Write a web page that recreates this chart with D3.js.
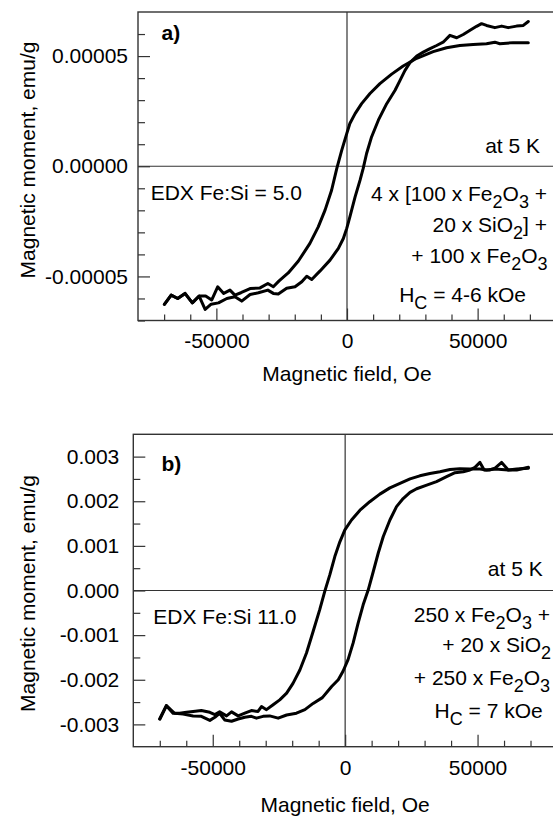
<!DOCTYPE html>
<html><head><meta charset="utf-8">
<script src="https://cdn.jsdelivr.net/npm/d3@7"></script>
<style>
html,body{margin:0;padding:0;background:#fff;}
svg{display:block;font-family:"Liberation Sans",Arial,sans-serif;}
text{white-space:pre;}
</style></head>
<body><svg id="chart" width="553" height="817"></svg>
<script>
// ---------- DATA ----------
const xLabel = "Magnetic field, Oe";
const yLabel = "Magnetic moment, emu/g";
const xMajorTicks = [-50000, 0, 50000];
const xMinorTicks = [-70000,-60000,-40000,-30000,-20000,-10000,10000,20000,30000,40000,60000,70000];

// Panel a
const aYMajorTicks = [-0.00005, 0, 0.00005];
const aYMinorTicks = [-0.00007,-0.00006,-0.00004,-0.00003,-0.00002,-0.00001,0.00001,0.00002,0.00003,0.00004,0.00006];
const aDownField = [-69900,-67300,-64800,-62000,-59200,-56600,-54100,-51800,-49500,-47200,-44800,-42900,-40600,-37100,-33300,-30300,-28200,-26000,-22500,-18600,-14200,-11000,-8400,-5900,-3900,-2000,-100,1100,3100,5600,8800,12600,17100,21500,26700,33000,38100,43200,48300,53400,56600,58500,63600,69400];
const aDownMoment = [-6.27e-5,-5.85e-5,-6.00e-5,-5.77e-5,-6.20e-5,-5.89e-5,-5.89e-5,-6.07e-5,-5.47e-5,-5.77e-5,-5.62e-5,-5.85e-5,-5.74e-5,-5.55e-5,-5.52e-5,-5.32e-5,-5.47e-5,-5.20e-5,-4.84e-5,-4.30e-5,-3.50e-5,-2.75e-5,-1.99e-5,-1.09e-5,-0.10e-5,0.73e-5,1.48e-5,1.94e-5,2.39e-5,2.84e-5,3.30e-5,3.75e-5,4.18e-5,4.55e-5,4.90e-5,5.20e-5,5.38e-5,5.48e-5,5.53e-5,5.56e-5,5.63e-5,5.56e-5,5.61e-5,5.61e-5];
const aUpField = [-69900,-67300,-64800,-62000,-59200,-56600,-54300,-52000,-49200,-46000,-42900,-40300,-37100,-33900,-30300,-28200,-26300,-23100,-19900,-17300,-15400,-13500,-10300,-6500,-3300,-1400,-100,1100,3100,5000,6200,7500,9400,12000,15200,18400,20300,22200,24100,26700,29200,31800,34300,36800,39400,42000,44500,47100,49600,51500,53400,56600,59200,61700,64900,67500,69400];
const aUpMoment = [-6.27e-5,-5.85e-5,-6.00e-5,-5.77e-5,-6.20e-5,-5.89e-5,-6.50e-5,-6.26e-5,-6.20e-5,-6.00e-5,-5.92e-5,-6.12e-5,-5.82e-5,-5.74e-5,-5.62e-5,-5.77e-5,-5.80e-5,-5.54e-5,-5.47e-5,-5.24e-5,-4.99e-5,-5.14e-5,-4.75e-5,-4.26e-5,-3.73e-5,-3.28e-5,-2.82e-5,-2.30e-5,-1.39e-5,-0.63e-5,-0.10e-5,0.58e-5,1.33e-5,2.09e-5,2.84e-5,3.45e-5,3.90e-5,4.35e-5,4.70e-5,5.00e-5,5.18e-5,5.34e-5,5.48e-5,5.63e-5,5.94e-5,5.83e-5,5.98e-5,6.17e-5,6.35e-5,6.47e-5,6.39e-5,6.29e-5,6.36e-5,6.29e-5,6.36e-5,6.39e-5,6.57e-5];

// Panel b
const bYMajorTicks = [-0.003,-0.002,-0.001,0,0.001,0.002,0.003];
const bYMinorTicks = [-0.0025,-0.0015,-0.0005,0.0005,0.0015,0.0025];
const bDownField = [-70000,-67500,-65000,-62500,-59900,-57400,-54300,-51100,-49200,-47400,-44800,-42900,-40400,-37900,-35400,-32900,-31600,-29700,-27200,-24700,-22100,-19700,-17100,-14600,-12100,-9600,-7700,-5800,-3900,-2000,-100,2400,5600,9300,13100,16900,20700,24500,28200,32000,35800,39600,43300,47100,50900,53400,56600,59100,61600,64800,69200];
const bDownMoment = [-2.88e-3,-2.58e-3,-2.75e-3,-2.75e-3,-2.73e-3,-2.71e-3,-2.69e-3,-2.73e-3,-2.78e-3,-2.72e-3,-2.81e-3,-2.72e-3,-2.81e-3,-2.75e-3,-2.69e-3,-2.71e-3,-2.60e-3,-2.67e-3,-2.56e-3,-2.45e-3,-2.30e-3,-2.08e-3,-1.78e-3,-1.40e-3,-0.92e-3,-0.43e-3,-0.02e-3,0.35e-3,0.76e-3,1.09e-3,1.36e-3,1.58e-3,1.80e-3,1.99e-3,2.16e-3,2.30e-3,2.40e-3,2.50e-3,2.57e-3,2.62e-3,2.66e-3,2.71e-3,2.73e-3,2.72e-3,2.72e-3,2.70e-3,2.72e-3,2.71e-3,2.70e-3,2.72e-3,2.74e-3];
const bUpField = [-70000,-67500,-64400,-61200,-57400,-54300,-51100,-49200,-47400,-45500,-42900,-40400,-37900,-35400,-33500,-31000,-28500,-25300,-22100,-18400,-15200,-12100,-8600,-5100,-2600,-800,1100,3000,4900,6800,8700,10600,12500,14400,16900,19400,21900,24500,27000,30800,34500,38300,41500,44600,47100,49000,50900,52500,54500,56600,59100,61600,64800,69200];
const bUpMoment = [-2.88e-3,-2.58e-3,-2.75e-3,-2.77e-3,-2.81e-3,-2.82e-3,-2.91e-3,-2.84e-3,-2.75e-3,-2.90e-3,-2.93e-3,-2.88e-3,-2.84e-3,-2.82e-3,-2.86e-3,-2.82e-3,-2.81e-3,-2.86e-3,-2.79e-3,-2.75e-3,-2.67e-3,-2.53e-3,-2.40e-3,-2.15e-3,-2.00e-3,-1.81e-3,-1.55e-3,-1.18e-3,-0.73e-3,-0.32e-3,0.01e-3,0.42e-3,0.84e-3,1.21e-3,1.58e-3,1.88e-3,2.06e-3,2.20e-3,2.28e-3,2.36e-3,2.44e-3,2.55e-3,2.64e-3,2.66e-3,2.70e-3,2.76e-3,2.87e-3,2.70e-3,2.70e-3,2.74e-3,2.87e-3,2.70e-3,2.70e-3,2.76e-3];

// Annotation texts: [text, isSubscript]
const aNotes = {
  label: "a)", temp: "at 5 K", edx: "EDX Fe:Si = 5.0",
  lines: [
    [["4 x [100 x Fe",0],["2",1],["O",0],["3",1],[" +",0]],
    [["20 x SiO",0],["2",1],["] +",0]],
    [["+ 100 x Fe",0],["2",1],["O",0],["3",1]],
    [["H",0],["C",1],[" = 4-6 kOe",0]]
  ]
};
const bNotes = {
  label: "b)", temp: "at 5 K", edx: "EDX Fe:Si 11.0",
  lines: [
    [["250 x Fe",0],["2",1],["O",0],["3",1],[" +",0]],
    [["+ 20 x SiO",0],["2",1]],
    [["+ 250 x Fe",0],["2",1],["O",0],["3",1]],
    [["H",0],["C",1],[" = 7 kOe",0]]
  ]
};

// ---------- DRAWING ----------
const svg = d3.select("#chart");
const FS = 21, SUBFS = 18, SUBDY = 7;
const ink = "#000", frameCol = "#333";

function rich(g, x, y, anchor, parts) {
  const t = g.append("text").attr("x", x).attr("y", y).attr("text-anchor", anchor)
    .attr("font-size", FS).attr("fill", ink);
  let sub = false;
  parts.forEach(([s, isSub]) => {
    const ts = t.append("tspan").text(s).attr("font-size", isSub ? SUBFS : FS);
    if (isSub && !sub) ts.attr("dy", SUBDY);
    if (!isSub && sub) ts.attr("dy", -SUBDY);
    sub = !!isSub;
  });
  return t;
}

function panel(cfg) {
  const {L, T, R, B, yDomain, yMajor, yMinor, yFmt, yPad, down, up, notes, pos} = cfg;
  const x = d3.scaleLinear().domain([-80000, 80000]).range([L, R]);
  const y = d3.scaleLinear().domain(yDomain).range([B, T]);
  const g = svg.append("g");

  // zero lines
  g.append("line").attr("x1", x(0)).attr("x2", x(0)).attr("y1", T).attr("y2", B)
    .attr("stroke", frameCol).attr("stroke-width", 1.2);
  g.append("line").attr("x1", L).attr("x2", R).attr("y1", y(0)).attr("y2", y(0))
    .attr("stroke", frameCol).attr("stroke-width", 1.2);

  // axes: minor
  const axMinX = g.append("g").attr("transform", `translate(0,${B})`)
    .call(d3.axisBottom(x).tickValues(xMinorTicks).tickSize(-6).tickFormat(""));
  const axMajX = g.append("g").attr("transform", `translate(0,${B})`)
    .call(d3.axisBottom(x).tickValues(xMajorTicks).tickSize(-12).tickPadding(13).tickFormat(d => String(d)));
  const axMinY = g.append("g").attr("transform", `translate(${L},0)`)
    .call(d3.axisLeft(y).tickValues(yMinor).tickSize(-7).tickFormat(""));
  const axMajY = g.append("g").attr("transform", `translate(${L},0)`)
    .call(d3.axisLeft(y).tickValues(yMajor).tickSize(-12).tickPadding(yPad).tickFormat(yFmt));
  [axMinX, axMajX, axMinY, axMajY].forEach(a => {
    a.select(".domain").remove();
    a.selectAll("line").attr("stroke", frameCol).attr("stroke-width", 1.2);
    a.selectAll("text").attr("font-size", FS).attr("fill", ink)
      .attr("font-family", '"Liberation Sans",Arial,sans-serif');
  });

  // frame
  g.append("rect").attr("x", L).attr("y", T).attr("width", R - L).attr("height", B - T)
    .attr("fill", "none").attr("stroke", frameCol).attr("stroke-width", 1.4);

  // curves
  const line = d3.line().x(d => x(d[0])).y(d => y(d[1]));
  [down, up].forEach(([fs, ms]) => {
    g.append("path").datum(fs.map((f, i) => [f, ms[i]])).attr("d", line)
      .attr("fill", "none").attr("stroke", ink).attr("stroke-width", 3)
      .attr("stroke-linejoin", "round").attr("stroke-linecap", "round");
  });

  // axis titles
  g.append("text").attr("x", (L + R) / 2).attr("y", pos.xTitleY).attr("text-anchor", "middle")
    .attr("font-size", FS).attr("fill", ink).text(xLabel);
  g.append("text").attr("transform", `translate(${pos.yTitleX},${pos.yTitleC}) rotate(-90)`)
    .attr("text-anchor", "middle").attr("font-size", FS).attr("fill", ink).text(yLabel);

  // annotations
  g.append("text").attr("x", pos.lab[0]).attr("y", pos.lab[1]).attr("font-size", FS)
    .attr("font-weight", "bold").attr("fill", ink).text(notes.label);
  g.append("text").attr("x", pos.temp[0]).attr("y", pos.temp[1]).attr("text-anchor", "end")
    .attr("font-size", FS).attr("fill", ink).text(notes.temp);
  g.append("text").attr("x", pos.edx[0]).attr("y", pos.edx[1])
    .attr("font-size", FS).attr("fill", ink).text(notes.edx);
  notes.lines.forEach((parts, i) => rich(g, pos.lines[i][0], pos.lines[i][1], "end", parts));
}

panel({
  L: 138, T: 12, R: 556, B: 320.5,
  yDomain: [-0.00007, 0.00007], yMajor: aYMajorTicks, yMinor: aYMinorTicks,
  yFmt: d => d.toFixed(5), yPad: 10,
  down: [aDownField, aDownMoment], up: [aUpField, aUpMoment], notes: aNotes,
  pos: { xTitleY: 381, yTitleX: 35, yTitleC: 160,
    lab: [161.5, 40], temp: [540, 152.7], edx: [150.7, 199.5],
    lines: [[547, 200.5], [547, 231.7], [547.5, 263.3], [526, 301.7]] }
});
panel({
  L: 133.3, T: 434.3, R: 557, B: 746.7,
  yDomain: [-0.0035, 0.0035], yMajor: bYMajorTicks, yMinor: bYMinorTicks,
  yFmt: d => d.toFixed(3), yPad: 14,
  down: [bDownField, bDownMoment], up: [bUpField, bUpMoment], notes: bNotes,
  pos: { xTitleY: 811.5, yTitleX: 35, yTitleC: 593.5,
    lab: [161.5, 470.7], temp: [542.7, 576], edx: [153.3, 624],
    lines: [[550, 621.7], [551, 652.3], [550, 685], [542.7, 718.3]] }
});
</script></body></html>
